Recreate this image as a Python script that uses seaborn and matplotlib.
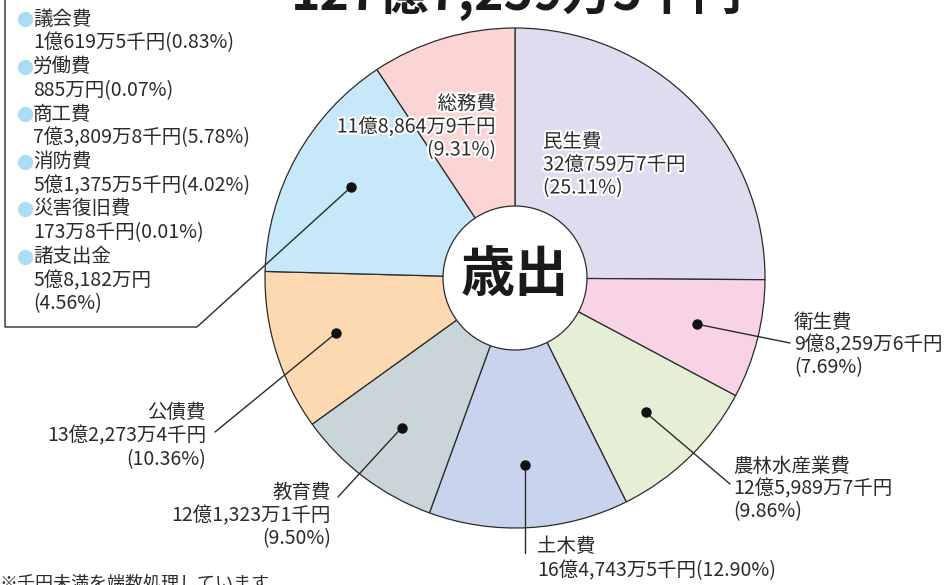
import numpy as np
import matplotlib
matplotlib.use('Agg')
import matplotlib.pyplot as plt
import matplotlib.patheffects as pe
from matplotlib.patches import Circle
import seaborn as sns

# 歳出の内訳（主な項目）
labels = ['民生費', '衛生費', '農林水産業費', '土木費', '教育費', '公債費', '総務費']
amounts = ['32億759万7千円', '9億8,259万6千円', '12億5,989万7千円', '16億4,743万5千円',
           '12億1,323万1千円', '13億2,273万4千円', '11億8,864万9千円']
shares = [25.11, 7.69, 9.86, 12.90, 9.50, 10.36, 9.31]

# その他（まとめて1つの扇形）
small_labels = ['議会費', '労働費', '商工費', '消防費', '災害復旧費', '諸支出金']
small_amounts = ['1億619万5千円', '885万円', '7億3,809万8千円', '5億1,375万5千円',
                 '173万8千円', '5億8,182万円']
small_shares = [0.83, 0.07, 5.78, 4.02, 0.01, 4.56]

total_text = '127億7,259万5千円'

colors = ['#dedcee', '#f8d3e5', '#e4efd6', '#c8d4ee', '#cad5da', '#fdd9b1', '#c7e8f8', '#fad5d4']
bullet_color = '#acdcf4'
ink = '#2b2b2b'

sns.set_theme(style='white')
plt.rcParams['font.family'] = ['Noto Sans CJK JP', 'DejaVu Sans']

W, H = 945, 585
fig = plt.figure(figsize=(W / 100, H / 100), dpi=100)
ax = fig.add_axes([0, 0, 1, 1])


def Y(py):
    return H - py


# 扇形の並び（時計回り、上から）
pie_vals = shares[:6] + [sum(small_shares)] + shares[6:]
cx, cy, R = 515, Y(278), 250
ax.pie(pie_vals, colors=colors, startangle=90, counterclock=False,
       center=(cx, cy), radius=R,
       wedgeprops=dict(edgecolor=ink, linewidth=0.9))
ax.add_patch(Circle((cx, cy), 72, facecolor='white', edgecolor=ink, linewidth=0.9, zorder=5))
ax.text(cx, cy + 2, '歳出', ha='center', va='center', fontsize=39, fontweight='bold',
        color='#1a1a1a', zorder=6)

ax.set_xlim(0, W)
ax.set_ylim(0, H)
ax.set_aspect('equal')
ax.axis('off')

# 各扇形の中央角度
cum = np.cumsum([0] + pie_vals)
mids = (cum[:-1] + cum[1:]) / 2 / 100.0
ang = np.deg2rad(90 - mids * 360)
dot_r = 0.75 * R
dots = [(cx + dot_r * np.cos(a), cy + dot_r * np.sin(a)) for a in ang]

fs = 14
halo = [pe.withStroke(linewidth=3, foreground='white')]


def block(x, y0, lines, ha='left', step=23.5, effects=None):
    for i, s in enumerate(lines):
        t = ax.text(x, Y(y0 + i * step), s, ha=ha, va='center', fontsize=fs,
                    color=ink, zorder=7)
        if effects:
            t.set_path_effects(effects)


def leader(i, pts):
    dx, dy = dots[i]
    xs = [dx] + [p[0] for p in pts]
    ys = [dy] + [Y(p[1]) for p in pts]
    ax.plot(xs, ys, color=ink, lw=1, zorder=6)
    ax.plot(dx, dy, 'o', color='#111111', ms=6.5, zorder=7)


def pct(v):
    return f'({v:.2f}%)'


# 民生費・総務費（扇形の中）
block(543, 142, [labels[0], amounts[0], pct(shares[0])], step=23, effects=halo)
block(496, 104, [labels[6], amounts[6], pct(shares[6])], ha='right', step=23, effects=halo)

# 衛生費
leader(1, [(790, 343)])
block(794, 322, [labels[1], amounts[1], pct(shares[1])], step=23)
# 農林水産業費
leader(2, [(730, 484)])
block(733, 466, [labels[2], amounts[2], pct(shares[2])], step=23)
# 土木費
leader(3, [(dots[3][0], 553)])
block(537, 547, [labels[3], amounts[3] + pct(shares[3])], step=24)
# 教育費
leader(4, [(338, 497)])
block(331, 492, [labels[4], amounts[4], pct(shares[4])], ha='right', step=23.5)
# 公債費
leader(5, [(215, 432)])
block(206, 412, [labels[5], amounts[5], pct(shares[5])], ha='right', step=24)

# その他（左上の一覧）
leader(6, [(197, 327), (5, 327), (5, -5)])
yy = 19
for lab, amt, sh in zip(small_labels, small_amounts, small_shares):
    ax.plot(25, Y(yy), 'o', color=bullet_color, ms=10, zorder=7)
    block(33, yy, [lab], step=23.5)
    if lab == '諸支出金':
        block(33, yy + 24, [amt, pct(sh)], step=23.5)
    else:
        block(33, yy + 24, [amt + pct(sh)])
    yy += 47.5

# 合計（上端で切れている）
ax.text(517, Y(10), total_text, ha='center', va='baseline', fontsize=36,
        fontweight='bold', color='#1a1a1a')
# 注記（下端で切れている）
ax.text(0, Y(575), '※千円未満を端数処理しています。', ha='left', va='top',
        fontsize=13, color=ink)

fig.savefig('out.png', dpi=100)
